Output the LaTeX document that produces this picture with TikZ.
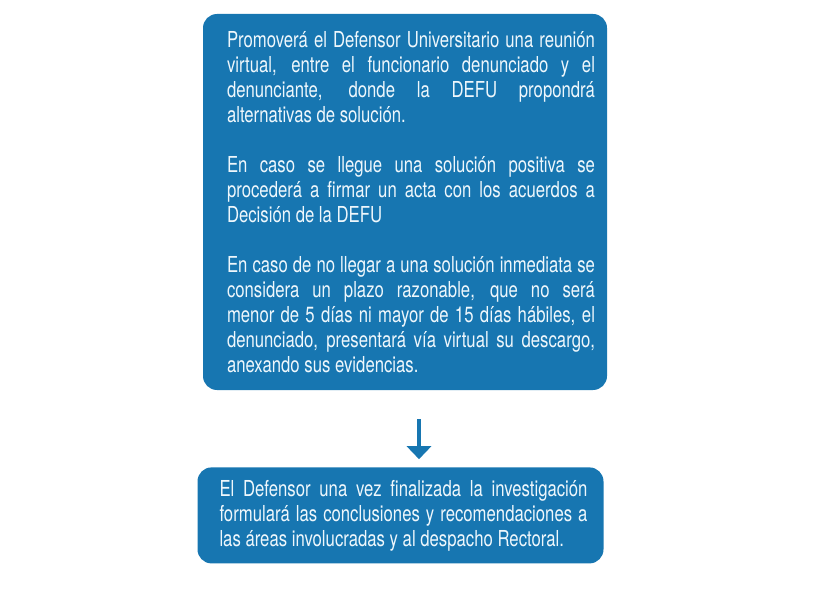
\documentclass[tikz,border=0pt]{standalone}
\usepackage{fontspec}
\setmainfont[FakeStretch=0.76]{TeX Gyre Heros}
\usepackage{tikz}
\usetikzlibrary{arrows.meta,positioning}
\definecolor{defublue}{HTML}{1776B1}
\definecolor{defutext}{HTML}{EEF7FC}

\begin{document}
\begin{tikzpicture}[
  font=\fontsize{22}{25}\selectfont,
  box/.style={fill=defublue, rounded corners=14pt, text=defutext, align=justify,
              inner ysep=0pt},
  arr/.style={-{Triangle[width=24pt,length=13pt]}, line width=4pt, defublue},
]
\useasboundingbox (0,0) rectangle (831pt,-615pt);
% ---------------- steps -----------------
\node[box, text width=380pt, inner xsep=12pt, minimum height=376pt,
      execute at begin node={\leftskip=12pt}] (meet) at (405pt,-202pt) {%
Promoverá el Defensor Universitario una reunión\linebreak
virtual, entre el funcionario denunciado y el\linebreak
denunciante, donde la DEFU propondrá\linebreak
alternativas de solución.\\[25pt]
En caso se llegue una solución positiva se\linebreak
procederá a firmar un acta con los acuerdos a\linebreak
Decisión de la DEFU\\[25pt]
En caso de no llegar a una solución inmediata se\linebreak
considera un plazo razonable, que no será\linebreak
menor de 5 días ni mayor de 15 días hábiles, el\linebreak
denunciado, presentará vía virtual su descargo,\linebreak
anexando sus evidencias.};
\node[box, text width=374pt, inner xsep=16pt, minimum height=96pt,
      execute at begin node={\leftskip=6pt},
      below=77pt of meet, xshift=-4.5pt] (report) {%
El Defensor una vez finalizada la investigación\linebreak
formulará las conclusiones y recomendaciones a\linebreak
las áreas involucradas y al despacho Rectoral.};
\draw[arr, shorten <=29pt, shorten >=8pt] ([xshift=14pt]meet.south) -- ([xshift=14pt]meet.south |- report.north);
\end{tikzpicture}
\end{document}
